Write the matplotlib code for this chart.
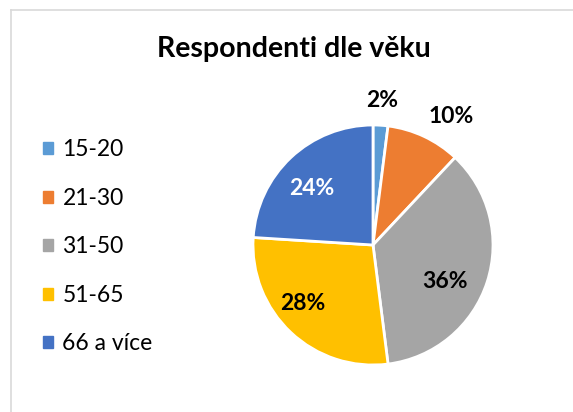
import matplotlib
matplotlib.use('Agg')
import matplotlib.pyplot as plt
from matplotlib.lines import Line2D
from matplotlib.patches import Rectangle
from numpy import array, cumsum, deg2rad, cos, sin


# Data of the chart
categories = ['15-20', '21-30', '31-50', '51-65', '66 a více']
shares = [2, 10, 36, 28, 24]
pct_labels = ['2%', '10%', '36%', '28%', '24%']
title = 'Respondenti dle věku'

# Styles
colors = ['#5B9BD5', '#ED7D31', '#A5A5A5', '#FFC000', '#4472C4']
label_colors = ['black', 'black', 'black', 'black', 'white']
label_radius = [1.21, 1.25, 0.67, 0.76, 0.69]
label_angle_shift = [0, -6, -9, -7, 4]

plt.rcParams['font.family'] = ['Lato', 'DejaVu Sans']


def add_pie_labels(ax, values) -> None:
    """
    Place the percentage labels around the slice middles.
    """
    values = array(values, dtype=float)
    ends = cumsum(values) / values.sum() * 360.0
    starts = ends - values / values.sum() * 360.0
    for i, text in enumerate(pct_labels):
        mid = 90.0 - (starts[i] + ends[i]) / 2.0 + label_angle_shift[i]
        r = label_radius[i]
        ax.text(r * cos(deg2rad(mid)), r * sin(deg2rad(mid)), text,
                ha='center', va='center', fontsize=16.5, fontweight='bold',
                color=label_colors[i])


fig = plt.figure(figsize=(5.73, 4.12), dpi=100)

# Chart frame (only top and left edges are visible in the crop)
fig.add_artist(Line2D([11 / 573, 1.0], [1 - 9.5 / 412, 1 - 9.5 / 412], color='#D9D9D9', lw=1.2))
fig.add_artist(Line2D([11 / 573, 11 / 573], [0.0, 1 - 9.5 / 412], color='#D9D9D9', lw=1.2))

fig.text(294 / 573, 1 - 57 / 412, title, ha='center', va='baseline', fontsize=20.5, fontweight='bold')

# Pie
ax = fig.add_axes([(373 - 120) / 573, (412 - 245 - 120) / 412, 240 / 573, 240 / 412])
ax.pie(shares, colors=colors, startangle=90, counterclock=False,
       wedgeprops={'edgecolor': 'white', 'linewidth': 2})
ax.set_xlim(-1, 1)
ax.set_ylim(-1, 1)
ax.set_aspect('equal')
ax.axis('off')
add_pie_labels(ax, shares)

# Legend
handles = [Rectangle((0, 0), 1, 1, color=c) for c in colors]
fig.legend(handles, categories, loc='center left', bbox_to_anchor=(43 / 573, 1 - 247 / 412),
           frameon=False, fontsize=16.5, handlelength=0.45, handleheight=0.45,
           handletextpad=0.4, labelspacing=1.2, borderpad=0, borderaxespad=0)

fig.savefig('out.png', dpi=100)
plt.close(fig)
